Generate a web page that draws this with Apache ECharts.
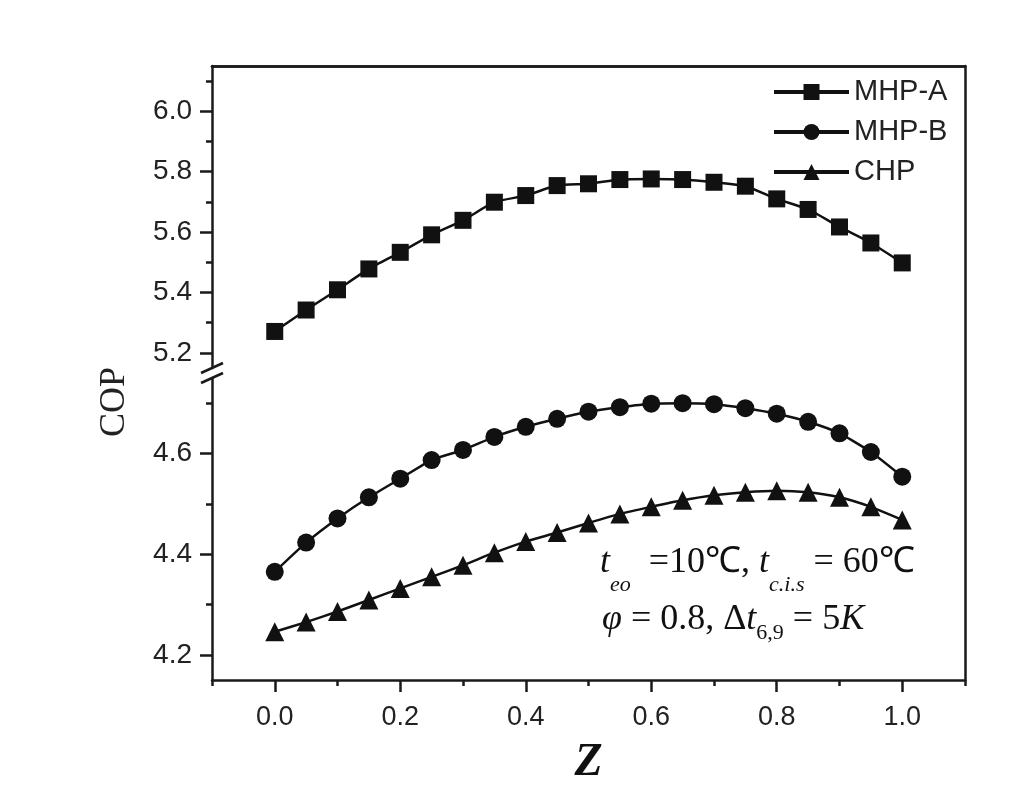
<!DOCTYPE html>
<html>
<head>
<meta charset="utf-8">
<script src="https://cdn.jsdelivr.net/npm/echarts@6/dist/echarts.min.js"></script>
<style>
html,body{margin:0;padding:0;background:#fff;}
#chart{width:1025px;height:795px;}
</style>
</head>
<body>
<div id="chart"></div>
<script>
// ---- data ----
const zValues = [0,0.05,0.1,0.15,0.2,0.25,0.3,0.35,0.4,0.45,0.5,0.55,0.6,0.65,0.7,0.75,0.8,0.85,0.9,0.95,1.0];
const mhpA = [5.271,5.342,5.409,5.478,5.533,5.591,5.639,5.699,5.721,5.754,5.760,5.774,5.776,5.774,5.765,5.752,5.710,5.675,5.617,5.564,5.498];
const mhpB = [4.365,4.423,4.471,4.513,4.550,4.587,4.607,4.633,4.653,4.669,4.683,4.692,4.699,4.700,4.698,4.690,4.679,4.663,4.640,4.603,4.554];
const chp  = [4.246,4.265,4.286,4.309,4.332,4.355,4.378,4.403,4.425,4.443,4.462,4.480,4.494,4.507,4.517,4.523,4.526,4.523,4.513,4.494,4.468];
const seriesNames = ['MHP-A','MHP-B','CHP'];
const xMajorTicks = [0,0.2,0.4,0.6,0.8,1.0];
const xMinorTicks = [-0.1,0.1,0.3,0.5,0.7,0.9,1.1];
const yUpperMajor = [5.2,5.4,5.6,5.8,6.0];
const yUpperMinor = [5.3,5.5,5.7,5.9,6.1];
const yLowerMajor = [4.2,4.4,4.6];
const yLowerMinor = [4.3,4.5,4.7];
const yUpperRange = [5.15,6.15];
const yLowerRange = [4.15,4.75];
const xRange = [-0.1,1.1];

// ---- layout ----
const L = 212, R = 965, TOP = 66, BOT = 680, BRK1 = 368, BRK2 = 378;
const W = 1025, H = 795;
const ink = '#1a1a1a';
const axisLine = {show:true, onZero:false, lineStyle:{color:ink, width:2.5}};
const noLine = {show:false, onZero:false};
const sans = "'Liberation Sans', Arial, sans-serif";
const serif = "'Liberation Serif', 'Times New Roman', serif";

function pair(arr){ return arr.map((v,i)=>[zValues[i], v]); }

const chart = echarts.init(document.getElementById('chart'), null, {renderer:'canvas'});

const lbl = (vals, margin, size) => ({show:true, customValues: vals, margin: margin, fontSize:size, color:'#222', fontFamily:sans, formatter: v => Number(v).toFixed(1)});

const option = {
  backgroundColor:'#fff',
  animation:false,
  grid:[
    {left:L, right:W-R, top:TOP, height:BRK1-TOP},
    {left:L, right:W-R, top:BRK2, height:BOT-BRK2},
    {left:L, right:W-R, top:TOP, height:BOT-TOP}
  ],
  xAxis:[
    {type:'value', gridIndex:0, min:xRange[0], max:xRange[1], position:'top', axisLine:axisLine, axisTick:{show:false}, axisLabel:{show:false}, splitLine:{show:false}},
    {type:'value', gridIndex:1, min:xRange[0], max:xRange[1], position:'bottom', axisLine:axisLine,
      axisTick:{show:true, customValues:xMajorTicks, length:12, lineStyle:{color:ink,width:2.5}},
      axisLabel:lbl(xMajorTicks, 24, 27), splitLine:{show:false},
      name:'Z', nameLocation:'middle', nameGap:60,
      nameTextStyle:{fontFamily:serif, fontStyle:'italic', fontWeight:'bold', fontSize:46, color:'#111'}},
    {type:'value', gridIndex:1, min:xRange[0], max:xRange[1], position:'bottom', axisLine:noLine,
      axisTick:{show:true, customValues:xMinorTicks, length:6, lineStyle:{color:ink,width:2.5}},
      axisLabel:{show:false}, splitLine:{show:false}},
    {type:'value', gridIndex:2, min:xRange[0], max:xRange[1], position:'top', axisLine:axisLine, axisTick:{show:false}, axisLabel:{show:false}, splitLine:{show:false}}
  ],
  yAxis:[
    {type:'value', gridIndex:0, min:yUpperRange[0], max:yUpperRange[1], position:'left', axisLine:axisLine,
      axisTick:{show:true, customValues:yUpperMajor, length:12, lineStyle:{color:ink,width:2.5}},
      axisLabel:lbl(yUpperMajor, 20, 28), splitLine:{show:false}},
    {type:'value', gridIndex:0, min:yUpperRange[0], max:yUpperRange[1], position:'left', axisLine:noLine,
      axisTick:{show:true, customValues:yUpperMinor, length:6, lineStyle:{color:ink,width:2.5}},
      axisLabel:{show:false}, splitLine:{show:false}},
    {type:'value', gridIndex:1, min:yLowerRange[0], max:yLowerRange[1], position:'left', axisLine:axisLine,
      axisTick:{show:true, customValues:yLowerMajor, length:12, lineStyle:{color:ink,width:2.5}},
      axisLabel:lbl(yLowerMajor, 20, 28), splitLine:{show:false}},
    {type:'value', gridIndex:1, min:yLowerRange[0], max:yLowerRange[1], position:'left', axisLine:noLine,
      axisTick:{show:true, customValues:yLowerMinor, length:6, lineStyle:{color:ink,width:2.5}},
      axisLabel:{show:false}, splitLine:{show:false}},
    {type:'value', gridIndex:2, min:0, max:1, position:'right', axisLine:axisLine, axisTick:{show:false}, axisLabel:{show:false}, splitLine:{show:false}}
  ],
  legend:{
    data:seriesNames, orient:'vertical', left:767, top:72,
    itemWidth:75, itemHeight:20, itemGap:10,
    textStyle:{fontSize:29, lineHeight:30, color:'#222', fontFamily:sans},
    lineStyle:{width:4}
  },
  series:[
    {name:seriesNames[0], type:'line', xAxisIndex:0, yAxisIndex:0, data:pair(mhpA), symbol:'rect', symbolSize:17,
      smooth:0.2, itemStyle:{color:'#111'}, lineStyle:{color:'#111', width:2.5}},
    {name:seriesNames[1], type:'line', xAxisIndex:1, yAxisIndex:2, data:pair(mhpB), symbol:'circle', symbolSize:18,
      smooth:0.2, itemStyle:{color:'#111'}, lineStyle:{color:'#111', width:2.5}},
    {name:seriesNames[2], type:'line', xAxisIndex:1, yAxisIndex:2, data:pair(chp), symbol:'triangle', symbolSize:19,
      smooth:0.2, itemStyle:{color:'#111'}, lineStyle:{color:'#111', width:2.5}}
  ],
  graphic:[
    // axis break marks
    {type:'line', shape:{x1:L-11, y1:BRK1+5, x2:L+11, y2:BRK1-5}, style:{stroke:ink, lineWidth:2.5}},
    {type:'line', shape:{x1:L-11, y1:BRK2+5, x2:L+11, y2:BRK2-5}, style:{stroke:ink, lineWidth:2.5}},
    // y axis title
    {type:'text', x:115, y:402, rotation:Math.PI/2,
      style:{text:'COP', font:"36px 'Liberation Serif', 'Times New Roman', serif", fill:'#222', align:'center', verticalAlign:'middle'}},
    // annotation line 1
    {type:'text', x:600, y:530,
      style:{
        text:'{i|t}{s|eo}{n|\u2002=10℃, }{i|t}{s|c.i.s}{n| = 60℃}',
        verticalAlign:'top', align:'left',
        rich:{
          i:{fontFamily:serif, fontStyle:'italic', fontSize:36, fill:'#111', lineHeight:66, verticalAlign:'middle'},
          n:{fontFamily:serif, fontSize:36, fill:'#111', lineHeight:66, verticalAlign:'middle'},
          s:{fontFamily:serif, fontStyle:'italic', fontSize:22, fill:'#111', lineHeight:66, verticalAlign:'bottom'}
        }
      }},
    // annotation line 2
    {type:'text', x:602, y:596,
      style:{
        text:'{i|φ}{n| = 0.8, Δ}{i|t}{s|6,9}{n| = 5}{i|K}',
        verticalAlign:'top', align:'left',
        rich:{
          i:{fontFamily:serif, fontStyle:'italic', fontSize:36, fill:'#111', lineHeight:48, verticalAlign:'middle'},
          n:{fontFamily:serif, fontSize:36, fill:'#111', lineHeight:48, verticalAlign:'middle'},
          s:{fontFamily:serif, fontSize:22, fill:'#111', lineHeight:48, verticalAlign:'bottom'}
        }
      }}
  ]
};
chart.setOption(option);
</script>
</body>
</html>
